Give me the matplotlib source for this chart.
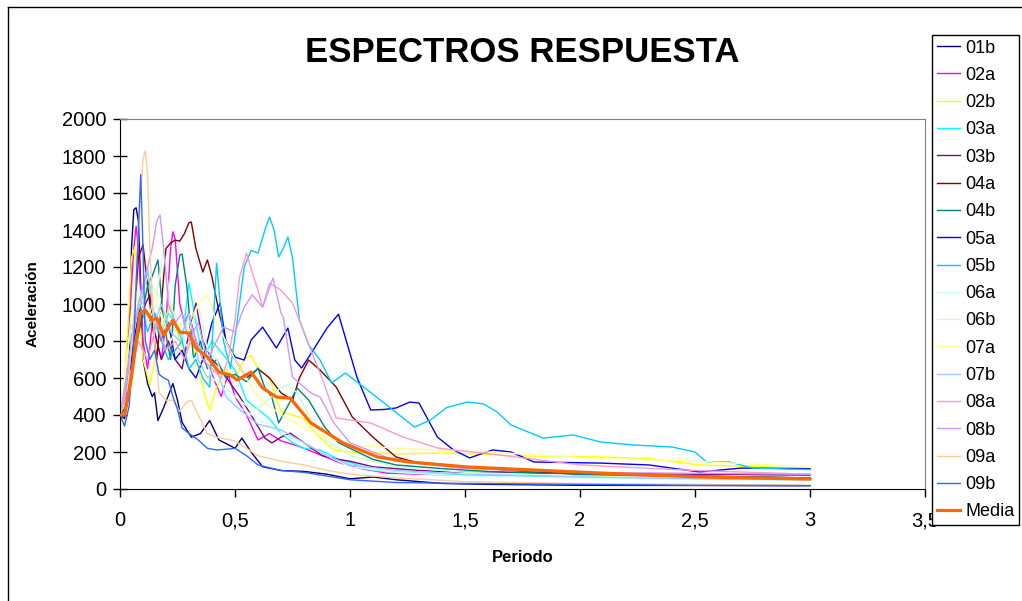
import matplotlib
matplotlib.use('Agg')
import matplotlib.pyplot as plt
from matplotlib.lines import Line2D

plt.rcParams['font.family'] = ['Liberation Sans', 'DejaVu Sans']

# periodo (s) / aceleracion por registro
t_01b = [0, .02, .04, .05, .06, .07, .08, .09, .10, .12, .14, .15, .165, .19, .23, .25, .27, .31, .35, .39, .43, .47, .50, .53, .57, .62, .70, .80, .90, 1.0, 1.1, 1.2, 1.4, 1.6, 2.0, 2.5, 3.0]
a_01b = [400, 380, 700, 1300, 1510, 1520, 1450, 1100, 700, 570, 500, 520, 370, 440, 570, 480, 360, 280, 300, 370, 265, 240, 220, 275, 200, 120, 100, 95, 80, 55, 65, 50, 30, 25, 20, 19, 18]

t_02a = [0, .02, .04, .06, .07, .08, .10, .12, .14, .16, .18, .20, .22, .23, .24, .26, .28, .30, .33, .36, .39, .41, .44, .47, .50, .55, .60, .65, .70, .73, .78, .85, .96, 1.05, 1.16, 1.3, 1.5, 2.0, 2.5, 3.0]
a_02a = [400, 500, 900, 1300, 1420, 1300, 800, 650, 900, 800, 700, 900, 1300, 1390, 1350, 1000, 900, 950, 800, 700, 650, 589, 500, 620, 500, 400, 265, 300, 260, 249, 230, 195, 140, 110, 86, 80, 75, 70, 65, 60]

t_02b = [0, .02, .04, .05, .065, .08, .10, .13, .16, .19, .22, .25, .28, .31, .34, .37, .39, .42, .46, .50, .54, .57, .60, .65, .70, .75, .80, .85, .93, 1.0, 1.2, 1.43, 1.7, 2.09, 2.3, 2.52, 2.8, 3.0]
a_02b = [400, 600, 1000, 1250, 1308, 1000, 700, 562, 750, 900, 1000, 850, 700, 800, 650, 500, 427, 550, 650, 600, 700, 724, 650, 600, 420, 400, 380, 300, 211, 200, 190, 195, 180, 173, 165, 130, 120, 110]

t_03a = [0, .03, .06, .09, .12, .15, .18, .21, .24, .27, .30, .33, .36, .40, .45, .50, .55, .60, .65, .70, .75, .80, .87, .95, 1.01, 1.1, 1.2, 1.5, 2.0, 2.5, 3.0]
a_03a = [400, 550, 800, 1000, 1180, 900, 800, 950, 900, 800, 1113, 900, 700, 800, 724, 643, 480, 430, 380, 300, 250, 220, 211, 160, 140, 100, 90, 75, 65, 55, 50]

t_03b = [0, .03, .06, .09, .11, .13, .15, .18, .21, .24, .27, .30, .33, .36, .40, .44, .47, .52, .57, .63, .66, .70, .74, .80, .88, .95, 1.0, 1.1, 1.3, 1.5, 2.0, 2.5, 3.0]
a_03b = [400, 450, 750, 900, 1000, 1050, 850, 700, 800, 700, 650, 850, 1005, 800, 700, 650, 589, 500, 400, 275, 249, 280, 302, 250, 180, 160, 150, 120, 100, 90, 85, 80, 75]

t_04a = [0, .03, .06, .08, .10, .12, .14, .16, .18, .20, .22, .24, .26, .28, .30, .31, .33, .36, .38, .40, .43, .46, .50, .55, .60, .65, .70, .75, .78, .82, .87, .94, 1.01, 1.1, 1.2, 1.3, 1.5, 1.7, 2.0, 2.5, 3.0]
a_04a = [400, 600, 900, 1250, 1320, 1100, 900, 700, 1000, 1300, 1330, 1345, 1340, 1380, 1440, 1443, 1300, 1173, 1238, 1146, 960, 800, 700, 600, 650, 600, 520, 480, 600, 697, 643, 551, 389, 280, 173, 140, 120, 100, 80, 70, 60]

t_04b = [0, .03, .06, .09, .12, .14, .165, .19, .22, .24, .26, .27, .29, .32, .35, .38, .42, .46, .50, .55, .60, .63, .66, .69, .73, .77, .82, .89, .95, 1.0, 1.1, 1.2, 1.4, 1.6, 2.0, 2.5, 3.0]
a_04b = [400, 450, 700, 900, 1100, 1150, 1238, 900, 700, 1100, 1265, 1270, 1100, 700, 800, 650, 700, 600, 620, 580, 654, 546, 497, 357, 450, 546, 481, 335, 250, 220, 160, 130, 110, 95, 80, 70, 60]

t_05a = [0, .03, .06, .09, .12, .15, .18, .21, .24, .27, .30, .33, .36, .40, .435, .46, .50, .54, .57, .62, .68, .73, .76, .79, .84, .90, .95, 1.03, 1.09, 1.15, 1.2, 1.26, 1.30, 1.38, 1.45, 1.52, 1.62, 1.70, 1.80, 2.09, 2.3, 2.52, 2.7, 3.0]
a_05a = [400, 500, 800, 1000, 900, 950, 800, 900, 700, 750, 650, 600, 700, 900, 1005, 800, 713, 697, 805, 875, 762, 870, 697, 654, 751, 870, 945, 605, 427, 430, 438, 470, 465, 281, 211, 168, 211, 200, 146, 140, 130, 92, 113, 110]

t_05b = [0, .03, .06, .09, .12, .15, .18, .21, .24, .27, .30, .33, .36, .39, .42, .45, .48, .51, .54, .57, .60, .63, .65, .67, .69, .71, .73, .75, .78, .82, .87, .92, .98, 1.05, 1.16, 1.28, 1.35, 1.42, 1.51, 1.58, 1.64, 1.70, 1.84, 1.97, 2.09, 2.23, 2.40, 2.50, 2.55, 2.65, 2.75, 3.0]
a_05b = [400, 600, 900, 1000, 850, 950, 800, 700, 750, 800, 650, 700, 600, 550, 1220, 800, 650, 913, 1200, 1290, 1275, 1400, 1470, 1400, 1254, 1300, 1362, 1250, 913, 780, 697, 573, 627, 560, 454, 335, 373, 440, 470, 460, 416, 346, 275, 292, 254, 238, 227, 200, 146, 146, 113, 105]

t_06a = [0, .04, .08, .12, .16, .20, .24, .28, .32, .36, .40, .45, .50, .55, .60, .70, .80, .90, 1.0, 1.2, 1.5, 2.0, 2.5, 3.0]
a_06a = [400, 800, 1100, 900, 1000, 850, 950, 800, 700, 750, 600, 550, 450, 420, 380, 300, 250, 180, 120, 90, 70, 60, 50, 45]

t_06b = [0, .04, .08, .12, .16, .19, .22, .26, .30, .34, .38, .42, .46, .50, .55, .60, .66, .70, .73, .77, .82, .90, 1.0, 1.2, 1.5, 2.0, 2.5, 3.0]
a_06b = [400, 700, 1000, 1150, 1050, 1300, 1000, 850, 900, 1000, 750, 700, 550, 500, 450, 430, 500, 550, 562, 520, 400, 260, 180, 120, 90, 70, 60, 55]

t_07a = [0, .03, .06, .09, .12, .15, .18, .22, .26, .30, .34, .38, .42, .46, .50, .55, .60, .70, .80, .90, 1.0, 1.2, 1.4, 1.6, 2.0, 2.5, 3.0]
a_07a = [400, 700, 1100, 1000, 900, 1050, 950, 800, 900, 850, 1000, 1050, 900, 800, 700, 600, 500, 400, 330, 280, 240, 220, 211, 200, 170, 150, 120]

t_07b = [0, .03, .06, .09, .12, .15, .18, .22, .26, .30, .34, .38, .42, .46, .50, .55, .60, .70, .80, .90, 1.0, 1.2, 1.5, 2.0, 2.5, 3.0]
a_07b = [400, 600, 900, 1000, 1200, 900, 1000, 850, 800, 950, 700, 600, 650, 500, 450, 400, 350, 320, 250, 180, 130, 100, 80, 65, 55, 50]

t_08a = [0, .04, .08, .12, .16, .20, .24, .28, .32, .36, .40, .44, .47, .50, .52, .55, .58, .60, .62, .65, .70, .75, .78, .83, .87, .94, 1.09, 1.23, 1.38, 1.45, 1.65, 2.0, 2.5, 3.0]
a_08a = [400, 600, 800, 700, 900, 750, 800, 700, 850, 700, 650, 600, 700, 913, 1146, 1275, 1150, 1075, 983, 1113, 1075, 1005, 913, 750, 627, 384, 357, 281, 222, 211, 184, 130, 100, 80]

t_08b = [0, .04, .08, .11, .14, .16, .174, .19, .21, .24, .27, .30, .34, .38, .42, .45, .50, .54, .575, .62, .665, .70, .71, .75, .83, .87, .93, 1.0, 1.2, 1.5, 2.0, 2.5, 3.0]
a_08b = [400, 700, 1000, 1150, 1300, 1450, 1481, 1300, 1000, 900, 950, 800, 900, 700, 800, 875, 850, 983, 1049, 983, 1140, 950, 929, 605, 519, 497, 357, 250, 150, 110, 90, 85, 80]

t_09a = [0, .03, .06, .08, .10, .11, .12, .13, .15, .17, .20, .23, .26, .29, .31, .34, .38, .42, .46, .50, .55, .60, .70, .80, .90, 1.0, 1.2, 1.5, 2.0, 2.5, 3.0]
a_09a = [400, 500, 900, 1400, 1780, 1830, 1700, 1300, 800, 520, 480, 480, 420, 470, 480, 400, 300, 280, 270, 260, 220, 180, 150, 130, 100, 80, 60, 40, 30, 25, 20]

t_09b = [0, .02, .04, .06, .08, .09, .10, .11, .13, .15, .17, .19, .21, .23, .25, .27, .30, .34, .38, .42, .46, .50, .55, .60, .70, .80, .90, 1.0, 1.2, 1.5, 2.0, 2.5, 3.0]
a_09b = [400, 340, 450, 800, 1400, 1700, 1300, 800, 700, 750, 620, 600, 589, 500, 430, 330, 300, 265, 220, 211, 215, 220, 180, 130, 100, 90, 70, 50, 35, 30, 25, 20, 18]

t_media = [0, .02, .05, .087, .11, .138, .16, .19, .23, .26, .30, .33, .38, .43, .48, .51, .57, .62, .68, .74, .83, .97, 1.12, 1.26, 1.51, 2.09, 2.52, 3.0]
a_media = [400, 400, 605, 951, 967, 913, 924, 832, 913, 848, 843, 762, 713, 632, 616, 589, 632, 546, 497, 491, 357, 249, 173, 146, 119, 86, 65, 54]

series = [
    ('01b', t_01b, a_01b, '#000080'),
    ('02a', t_02a, a_02a, '#FF00FF'),
    ('02b', t_02b, a_02b, '#FFFF00'),
    ('03a', t_03a, a_03a, '#00FFFF'),
    ('03b', t_03b, a_03b, '#800080'),
    ('04a', t_04a, a_04a, '#800000'),
    ('04b', t_04b, a_04b, '#008080'),
    ('05a', t_05a, a_05a, '#0000FF'),
    ('05b', t_05b, a_05b, '#00CCFF'),
    ('06a', t_06a, a_06a, '#CCFFFF'),
    ('06b', t_06b, a_06b, '#CCFFCC'),
    ('07a', t_07a, a_07a, '#FFFF99'),
    ('07b', t_07b, a_07b, '#99CCFF'),
    ('08a', t_08a, a_08a, '#FF99CC'),
    ('08b', t_08b, a_08b, '#CC99FF'),
    ('09a', t_09a, a_09a, '#FFCC99'),
    ('09b', t_09b, a_09b, '#3366FF'),
]

xticks = [0, 0.5, 1, 1.5, 2, 2.5, 3, 3.5]
xlabels = ['0', '0,5', '1', '1,5', '2', '2,5', '3', '3,5']
yticks = list(range(0, 2001, 200))

W, H = 1022, 601
fig = plt.figure(figsize=(W / 100, H / 100), dpi=100)
ax = fig.add_axes([120 / W, 1 - 489 / H, 805 / W, 370 / H])

for name, t, a, c in series:
    ax.plot(t, a, color=c, lw=1.0, label=name)
ax.plot(t_media, a_media, color='#FF6600', lw=2.3, label='Media', zorder=5)

ax.set_xlim(0, 3.5)
ax.set_ylim(0, 2000)
ax.set_xticks(xticks)
ax.set_xticklabels(xlabels)
ax.set_yticks(yticks)
ax.tick_params(axis='y', direction='inout', length=10, width=1, labelsize=14.5, pad=5)
ax.tick_params(axis='x', direction='out', length=6, width=1, labelsize=14.5, pad=10)
for s in ['top', 'right']:
    ax.spines[s].set_color('#808080')
for s in ['left', 'bottom']:
    ax.spines[s].set_color('black')

fig.text(522 / W, 1 - 52 / H, 'ESPECTROS RESPUESTA', ha='center', va='center',
         fontsize=25, fontweight='bold')
fig.text(33 / W, 1 - 304 / H, 'Aceleración', rotation=90, ha='center', va='center',
         fontsize=11, fontweight='bold')
fig.text(523 / W, 1 - 557 / H, 'Periodo', ha='center', va='center',
         fontsize=12, fontweight='bold')

leg = fig.legend(loc='upper left', bbox_to_anchor=(932 / W, 1 - 35 / H), fontsize=13,
                 frameon=True, fancybox=False, edgecolor='black', framealpha=1,
                 borderaxespad=0, labelspacing=0.57, handlelength=1.3, handletextpad=0.3,
                 borderpad=0.25)
leg.get_frame().set_linewidth(1)
leg.set_zorder(10)

# borde del grafico
fig.add_artist(Line2D([8 / W, 8 / W], [0, 1 - 7 / H], color='black', lw=1))
fig.add_artist(Line2D([8 / W, 1], [1 - 7 / H, 1 - 7 / H], color='black', lw=1))

fig.savefig('out.png', dpi=100)
